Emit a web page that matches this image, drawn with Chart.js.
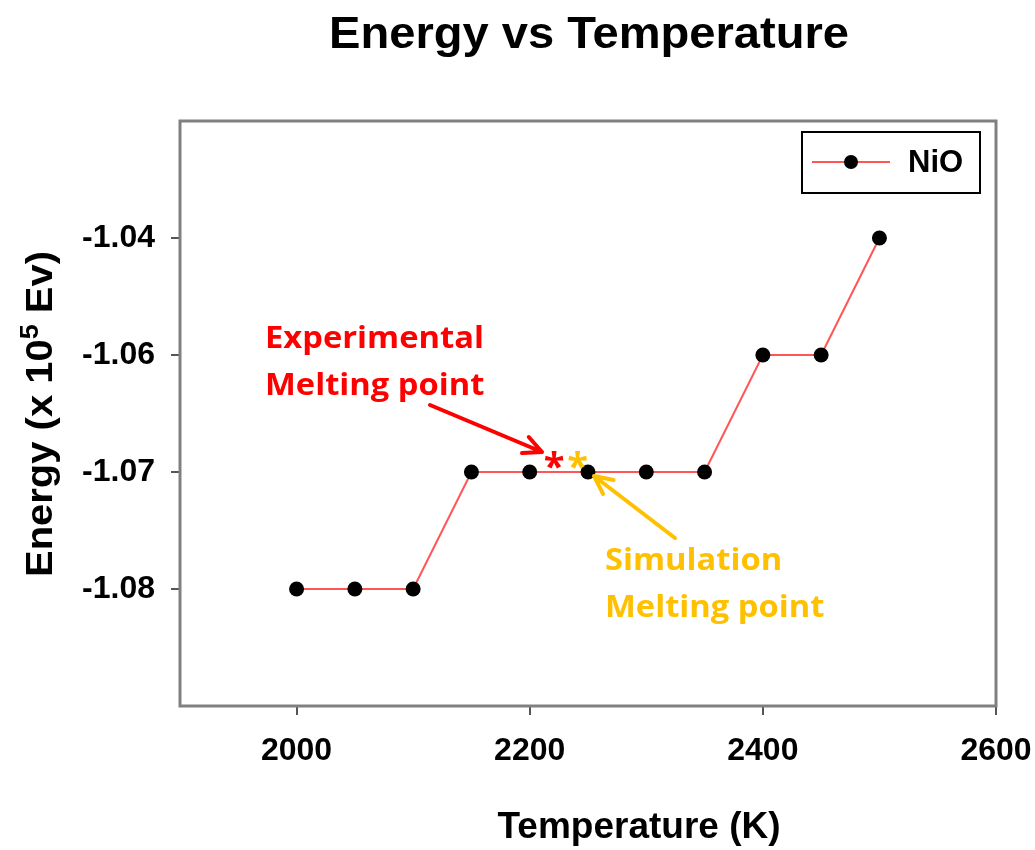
<!DOCTYPE html>
<html>
<head>
<meta charset="utf-8">
<script src="https://cdn.jsdelivr.net/npm/chart.js@4/dist/chart.umd.min.js"></script>
<style>
  html, body { margin: 0; padding: 0; background: #fff; }
  #wrap { width: 1035px; height: 850px; position: relative; }
</style>
</head>
<body>
<div id="wrap"><canvas id="energy-chart"></canvas></div>
<script>
// data
const temperatures = [2000, 2050, 2100, 2150, 2200, 2250, 2300, 2350, 2400, 2450, 2500];
const energies = [-1.075, -1.075, -1.075, -1.065, -1.065, -1.065, -1.065, -1.065, -1.055, -1.055, -1.045];
const xTicks = [2000, 2200, 2400, 2600];
const yTicks = [-1.075, -1.065, -1.055, -1.045];
const yTickLabels = ['-1.08', '-1.07', '-1.06', '-1.04'];
const seriesName = 'NiO';
// melting point markers (x in K, y on energy axis)
const experimentalMelt = [2221, -1.0638];
const simulationMelt = [2241, -1.0638];

const lineColor = '#ff5555';
const red = '#ff0000';
const gold = '#ffc000';

const drawArrow = (ctx, x1, y1, x2, y2, color) => {
  const angle = Math.atan2(y2 - y1, x2 - x1);
  const head = 20;
  ctx.save();
  ctx.strokeStyle = color;
  ctx.lineWidth = 4;
  ctx.lineCap = 'round';
  ctx.lineJoin = 'round';
  ctx.beginPath();
  ctx.moveTo(x1, y1);
  ctx.lineTo(x2, y2);
  ctx.moveTo(x2 - head * Math.cos(angle - 0.45), y2 - head * Math.sin(angle - 0.45));
  ctx.lineTo(x2, y2);
  ctx.lineTo(x2 - head * Math.cos(angle + 0.45), y2 - head * Math.sin(angle + 0.45));
  ctx.stroke();
  ctx.restore();
};

// the source figure is a little wider than tall, so stretch text horizontally
const stretchText = (ctx, text, x, y, sx, align) => {
  ctx.save();
  ctx.translate(x, y);
  ctx.scale(sx, 1);
  ctx.textAlign = align;
  ctx.fillText(text, 0, 0);
  ctx.restore();
};

const decorations = {
  id: 'decorations',
  afterDraw(chart) {
    const { ctx, chartArea, scales } = chart;
    const arial = '"Liberation Sans", Arial, sans-serif';
    const calibri = '"Open Sans", sans-serif';

    ctx.save();

    // frame
    ctx.strokeStyle = '#808080';
    ctx.lineWidth = 3;
    ctx.strokeRect(chartArea.left, chartArea.top, chartArea.right - chartArea.left, chartArea.bottom - chartArea.top);

    ctx.fillStyle = '#000';
    ctx.textBaseline = 'alphabetic';

    // title
    ctx.font = 'bold 44px ' + arial;
    stretchText(ctx, 'Energy vs Temperature', 589, 48, 1.07, 'center');

    // x title
    ctx.font = 'bold 37px ' + arial;
    stretchText(ctx, 'Temperature (K)', 639, 838, 1, 'center');

    // y title with superscript
    ctx.save();
    ctx.translate(52, 414);
    ctx.rotate(-Math.PI / 2);
    ctx.scale(1.08, 1);
    ctx.textAlign = 'left';
    const partA = 'Energy (x 10';
    const partB = '5';
    const partC = ' Ev)';
    ctx.font = 'bold 37px ' + arial;
    const wA = ctx.measureText(partA).width;
    const wC = ctx.measureText(partC).width;
    ctx.font = 'bold 25px ' + arial;
    const wB = ctx.measureText(partB).width;
    let x = -(wA + wB + wC) / 2;
    ctx.font = 'bold 37px ' + arial;
    ctx.fillText(partA, x, 0);
    x += wA;
    ctx.font = 'bold 25px ' + arial;
    ctx.fillText(partB, x, -14);
    x += wB;
    ctx.font = 'bold 37px ' + arial;
    ctx.fillText(partC, x, 0);
    ctx.restore();

    // legend
    ctx.strokeStyle = '#000';
    ctx.lineWidth = 2;
    ctx.strokeRect(802, 132, 178, 61);
    ctx.strokeStyle = lineColor;
    ctx.beginPath();
    ctx.moveTo(812, 162);
    ctx.lineTo(890, 162);
    ctx.stroke();
    ctx.beginPath();
    ctx.arc(851, 162, 7, 0, Math.PI * 2);
    ctx.fill();
    ctx.font = 'bold 31px ' + arial;
    stretchText(ctx, seriesName, 908, 172, 1, 'left');

    // annotations
    ctx.font = 'bold 30px ' + calibri;
    ctx.fillStyle = red;
    stretchText(ctx, 'Experimental', 265, 348, 1.09, 'left');
    stretchText(ctx, 'Melting point', 265, 395, 1.09, 'left');
    ctx.fillStyle = gold;
    stretchText(ctx, 'Simulation', 605, 570, 1.09, 'left');
    stretchText(ctx, 'Melting point', 605, 617, 1.09, 'left');

    drawArrow(ctx, 430, 405, 542, 452, red);
    drawArrow(ctx, 675, 538, 594, 476, gold);

    ctx.font = 'bold 38px ' + calibri;
    ctx.textAlign = 'center';
    ctx.fillStyle = red;
    ctx.fillText('*', scales.x.getPixelForValue(experimentalMelt[0]), scales.y.getPixelForValue(experimentalMelt[1]) + 22);
    ctx.fillStyle = gold;
    ctx.fillText('*', scales.x.getPixelForValue(simulationMelt[0]), scales.y.getPixelForValue(simulationMelt[1]) + 22);

    ctx.restore();
  },
};

const tickFont = { family: '"Liberation Sans", Arial, sans-serif', size: 32, weight: 'bold' };

new Chart(document.getElementById('energy-chart'), {
  type: 'line',
  data: {
    datasets: [
      {
        label: seriesName,
        data: temperatures.map((t, i) => ({ x: t, y: energies[i] })),
        borderColor: lineColor,
        borderWidth: 2,
        pointRadius: 7.5,
        pointBackgroundColor: '#000',
        pointBorderColor: '#000',
        pointBorderWidth: 0,
        tension: 0,
        fill: false,
      },
    ],
  },
  options: {
    responsive: true,
    maintainAspectRatio: false,
    animation: false,
    layout: {
      padding: { top: 121, right: 39, left: 0, bottom: 0 },
    },
    plugins: {
      legend: { display: false },
      title: { display: false },
      tooltip: { enabled: false },
    },
    scales: {
      x: {
        type: 'linear',
        min: 1900,
        max: 2600,
        afterBuildTicks: (scale) => {
          scale.ticks = xTicks.map((v) => ({ value: v }));
        },
        afterFit: (scale) => {
          scale.height = 144;
          scale.paddingLeft = 0;
          scale.paddingRight = 0;
        },
        grid: {
          drawOnChartArea: false,
          drawTicks: true,
          tickLength: 9,
          color: '#555',
          lineWidth: 2,
        },
        border: { display: false },
        ticks: {
          color: '#000',
          font: tickFont,
          padding: 17,
          maxRotation: 0,
          callback: (value) => String(value),
        },
      },
      y: {
        type: 'linear',
        min: -1.085,
        max: -1.035,
        afterBuildTicks: (scale) => {
          scale.ticks = yTicks.map((v) => ({ value: v }));
        },
        afterFit: (scale) => {
          scale.width = 180;
          scale.paddingTop = 0;
          scale.paddingBottom = 0;
        },
        grid: {
          drawOnChartArea: false,
          drawTicks: true,
          tickLength: 9,
          color: '#555',
          lineWidth: 2,
        },
        border: { display: false },
        ticks: {
          color: '#000',
          font: tickFont,
          padding: 16,
          callback: (value, index) => yTickLabels[index],
        },
      },
    },
  },
  plugins: [decorations],
});
</script>
</body>
</html>
